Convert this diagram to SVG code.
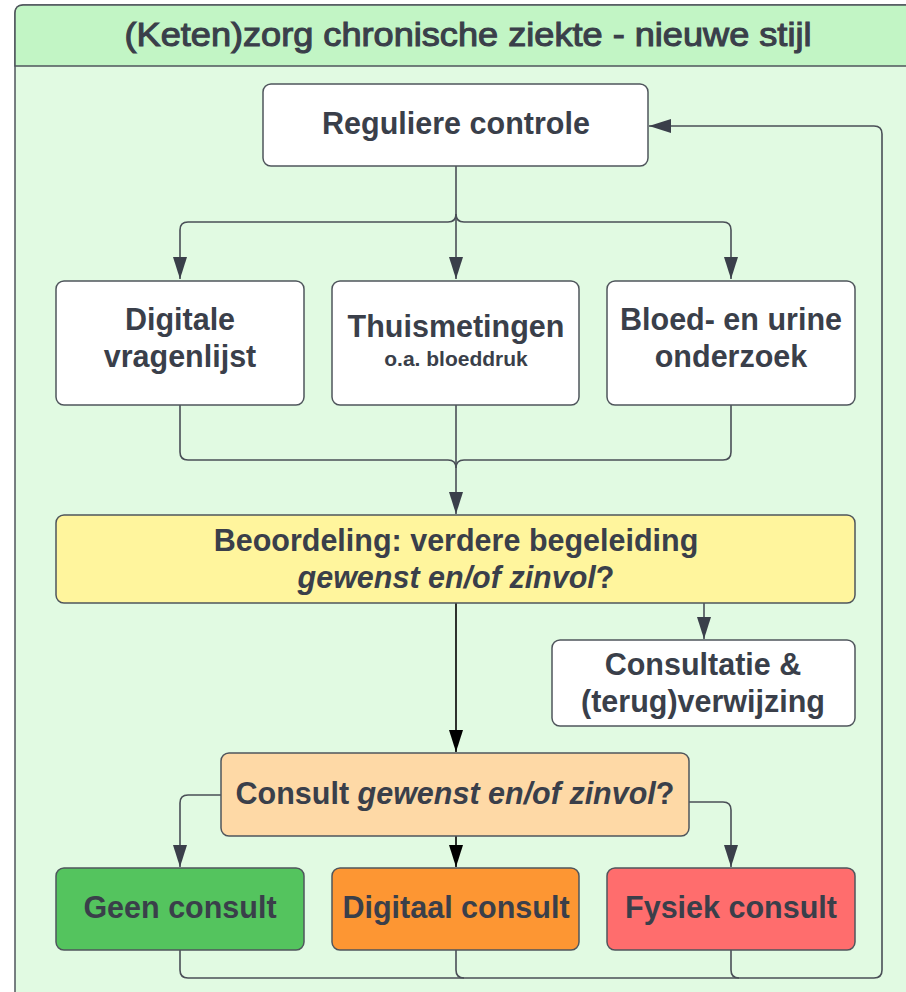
<svg xmlns="http://www.w3.org/2000/svg" width="906" height="992" viewBox="0 0 906 992">
<defs>
<style>
.box{stroke:#4f555c;stroke-width:1.5}
.t{font-family:"Liberation Sans",Arial,sans-serif;font-weight:bold;font-size:30.5px;fill:#3a3f4a;text-anchor:middle}
.s{font-size:21px}
.i{font-style:italic}
.c{fill:none;stroke:#4a4f57;stroke-width:1.6}
.k{fill:none;stroke:#000;stroke-width:1.6}
</style>
<marker id="a" markerUnits="userSpaceOnUse" markerWidth="22" markerHeight="14" viewBox="0 0 22 14" refX="22" refY="7" orient="auto">
<path d="M0,0 L22,7 L0,14 Z" fill="#3a3f4a"/>
</marker>
<marker id="b" markerUnits="userSpaceOnUse" markerWidth="22" markerHeight="14" viewBox="0 0 22 14" refX="22" refY="7" orient="auto">
<path d="M0,0 L22,7 L0,14 Z" fill="#000"/>
</marker>
</defs>
<g id="frame">
<rect x="15" y="5" width="905" height="1000" rx="8" fill="#e1fae2" stroke="#4f555c" stroke-width="1.5"/>
<path d="M15,66 V13 Q15,5 23,5 H920 V66 Z" fill="#c2f5c5" stroke="#4f555c" stroke-width="1.5"/>
<text x="468" y="46" style="font-family:'Liberation Sans',Arial,sans-serif;font-size:34px;fill:#3a3f4a;text-anchor:middle;stroke:#3a3f4a;stroke-width:1.1" textLength="687" lengthAdjust="spacingAndGlyphs">(Keten)zorg chronische ziekte - nieuwe stijl</text>
</g>
<g id="connectors">
<path class="c" d="M456,166 V279" marker-end="url(#a)"/>
<path class="c" d="M456,214 Q456,222 448,222 H188 Q180,222 180,230 V279" marker-end="url(#a)"/>
<path class="c" d="M456,214 Q456,222 464,222 H723 Q731,222 731,230 V279" marker-end="url(#a)"/>
<path class="c" d="M180,405 V452 Q180,460 188,460 H448 Q456,460 456,468"/>
<path class="c" d="M731,405 V452 Q731,460 723,460 H464 Q456,460 456,468"/>
<path class="c" d="M456,405 V514" marker-end="url(#a)"/>
<path class="c" d="M704,603 V639" marker-end="url(#a)"/>
<path class="k" d="M456,603 V752" marker-end="url(#b)"/>
<path class="c" d="M221,795 H188 Q180,795 180,803 V867" marker-end="url(#a)"/>
<path class="c" d="M689,802 H723 Q731,802 731,810 V867" marker-end="url(#a)"/>
<path class="k" d="M456,836 V867" marker-end="url(#b)"/>
<path class="c" d="M180,950 V970 Q180,978 188,978 H874 Q882,978 882,970 V134 Q882,126 874,126 H649" marker-end="url(#a)"/>
<path class="c" d="M456,950 V970 Q456,978 464,978"/>
<path class="c" d="M731,950 V970 Q731,978 739,978"/>
</g>
<g id="reguliere">
<rect class="box" x="263" y="84" width="385" height="82" rx="8" fill="#fff"/>
<text class="t" x="456" y="134">Reguliere controle</text>
</g>
<g id="digitale">
<rect class="box" x="56" y="281" width="248" height="124" rx="8" fill="#fff"/>
<text class="t" x="180" y="330">Digitale</text>
<text class="t" x="180" y="367">vragenlijst</text>
</g>
<g id="thuis">
<rect class="box" x="332" y="281" width="247" height="124" rx="8" fill="#fff"/>
<text class="t" x="456" y="337">Thuismetingen</text>
<text class="t s" x="456" y="366">o.a. bloeddruk</text>
</g>
<g id="bloed">
<rect class="box" x="607" y="281" width="248" height="124" rx="8" fill="#fff"/>
<text class="t" x="731" y="330">Bloed- en urine</text>
<text class="t" x="731" y="367">onderzoek</text>
</g>
<g id="beoordeling">
<rect class="box" x="56" y="515" width="799" height="88" rx="8" fill="#fff59d"/>
<text class="t" x="456" y="551">Beoordeling: verdere begeleiding</text>
<text class="t" x="456" y="588"><tspan class="i">gewenst en/of zinvol</tspan>?</text>
</g>
<g id="consultatie">
<rect class="box" x="552" y="640" width="303" height="86" rx="8" fill="#fff"/>
<text class="t" x="703" y="675">Consultatie &amp;</text>
<text class="t" x="703" y="712">(terug)verwijzing</text>
</g>
<g id="consult">
<rect class="box" x="221" y="753" width="468" height="83" rx="8" fill="#fed9a6"/>
<text class="t" x="455" y="804">Consult <tspan class="i">gewenst en/of zinvol</tspan>?</text>
</g>
<g id="geen">
<rect class="box" x="56" y="868" width="248" height="82" rx="8" fill="#54c45e"/>
<text class="t" x="180" y="918">Geen consult</text>
</g>
<g id="digitaal">
<rect class="box" x="332" y="868" width="247" height="82" rx="8" fill="#fd9633"/>
<text class="t" x="456" y="918">Digitaal consult</text>
</g>
<g id="fysiek">
<rect class="box" x="607" y="868" width="248" height="82" rx="8" fill="#ff6d6d"/>
<text class="t" x="731" y="918">Fysiek consult</text>
</g>
</svg>
